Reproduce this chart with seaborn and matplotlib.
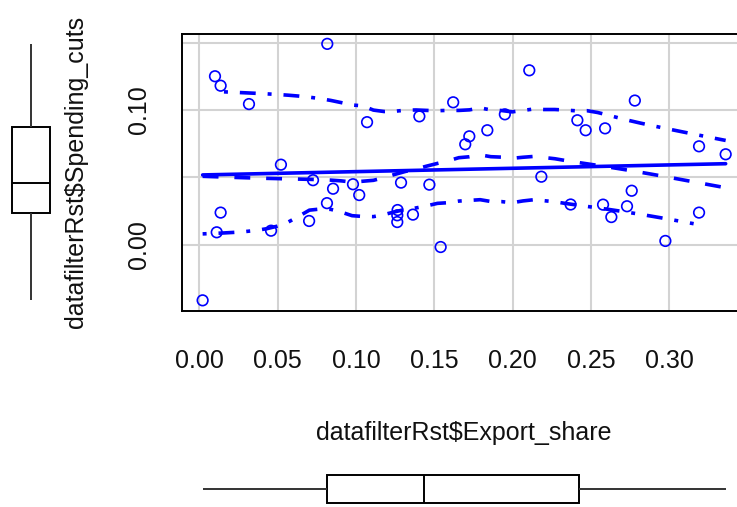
import numpy as np
import pandas as pd
import matplotlib
matplotlib.use("Agg")
import matplotlib.pyplot as plt
import seaborn as sns

# ---------------- data ----------------
export_share = [0.002, 0.0099, 0.0135, 0.0316, 0.0135, 0.011, 0.0816, 0.107,
                0.052, 0.0725, 0.0853, 0.098, 0.102, 0.0814, 0.070, 0.0457,
                0.2106, 0.162, 0.278, 0.1404, 0.195, 0.1838, 0.1723, 0.1697,
                0.2413, 0.2466, 0.259, 0.319, 0.336, 0.1287, 0.1468, 0.2183,
                0.276, 0.1265, 0.1263, 0.1263, 0.1363, 0.154, 0.237, 0.2577,
                0.263, 0.273, 0.319, 0.2975]
spending_cuts = [-0.041, 0.125, 0.118, 0.1044, 0.024, 0.0094, 0.149, 0.091,
                 0.0595, 0.048, 0.0417, 0.045, 0.037, 0.031, 0.0178, 0.0106,
                 0.1294, 0.1057, 0.107, 0.0953, 0.0968, 0.085, 0.0805, 0.0746,
                 0.0924, 0.085, 0.0864, 0.0731, 0.0672, 0.0462, 0.0447, 0.0506,
                 0.0402, 0.0259, 0.022, 0.017, 0.0225, -0.0015, 0.030, 0.0299,
                 0.0207, 0.0287, 0.024, 0.003]
x_tick_values = [0.00, 0.05, 0.10, 0.15, 0.20, 0.25, 0.30]
x_tick_labels = ["0.00", "0.05", "0.10", "0.15", "0.20", "0.25", "0.30"]
y_tick_values = [0.00, 0.05, 0.10, 0.15]
y_tick_labels = ["0.00", "", "0.10", ""]
x_title = "datafilterRst$Export_share"
y_title = "datafilterRst$Spending_cuts"

# ---------------- smoothing (car::scatterplot style) ----------------
def local_fit(x, y, rw, x0, span, degree):
    n = len(x)
    q = max(int(np.floor(n * span)), 1)
    d = np.abs(x - x0)
    h = np.sort(d)[q - 1]
    h = max(h, 1e-12) * 1.0000001
    u = np.clip(d / h, 0, 1)
    w = (1 - u ** 3) ** 3 * rw
    if degree == 0:
        return np.sum(w * y) / np.sum(w)
    X = np.column_stack([np.ones(n), x - x0])
    sw = np.sqrt(w)
    beta = np.linalg.lstsq(X * sw[:, None], y * sw, rcond=None)[0]
    return beta[0]


def loess(x, y, span=2 / 3, degree=1, iterations=4):
    rw = np.ones(len(x))
    fitted = None
    for it in range(iterations):
        fitted = np.array([local_fit(x, y, rw, xi, span, degree) for xi in x])
        if it < iterations - 1:
            r = y - fitted
            s = np.median(np.abs(r))
            if s <= 0:
                break
            u = np.clip(np.abs(r) / (6 * s), 0, 1)
            rw = (1 - u ** 2) ** 2
    def predict(xe):
        out = np.array([local_fit(x, y, rw, xi, span, degree) for xi in xe])
        out[(xe < x.min() - 1e-12) | (xe > x.max() + 1e-12)] = np.nan
        return out
    return fitted, predict


xa = np.asarray(export_share, float)
ya = np.asarray(spending_cuts, float)
x_eval = np.linspace(xa.min(), xa.max(), 50)

fit_vals, fit_pred = loess(xa, ya)
y_eval = fit_pred(x_eval)
res = ya - fit_vals
pos = res > 0
_, pos_pred = loess(xa[pos], res[pos] ** 2, degree=0, iterations=1)
_, neg_pred = loess(xa[~pos], res[~pos] ** 2, degree=0, iterations=1)
y_up = y_eval + np.sqrt(pos_pred(x_eval))
y_lo = y_eval - np.sqrt(neg_pred(x_eval))

slope, intercept = np.polyfit(xa, ya, 1)
x_reg = np.array([xa.min(), xa.max()])
y_reg = intercept + slope * x_reg

df = pd.DataFrame({"x": xa, "y": ya})
curves = pd.DataFrame({"x": x_eval, "fit": y_eval, "up": y_up, "lo": y_lo})

# ---------------- figure ----------------
sns.set_theme(style="white")
plt.rcParams["font.family"] = ["Liberation Sans", "DejaVu Sans"]

W, H = 737, 507
fig = plt.figure(figsize=(W / 100, H / 100), dpi=100)
fig.patch.set_facecolor("white")

xr = xa.max() - xa.min()
yr = ya.max() - ya.min()
xlim = (xa.min() - 0.04 * xr, xa.max() + 0.04 * xr)
ylim = (ya.min() - 0.04 * yr, ya.max() + 0.04 * yr)

ppu_x = 1566.0
ax_left_px, ax_top_px, ax_bot_px = 181.7, 33.6, 310.6
ax_w_px = (xlim[1] - xlim[0]) * ppu_x
ax = fig.add_axes([ax_left_px / W, 1 - ax_bot_px / H, ax_w_px / W,
                   (ax_bot_px - ax_top_px) / H])

blue = "#0000FF"
for v in x_tick_values:
    ax.axvline(v, color="#d3d3d3", lw=1.5, zorder=0)
for v in y_tick_values:
    ax.axhline(v, color="#d3d3d3", lw=1.5, zorder=0)

sns.scatterplot(data=df, x="x", y="y", ax=ax, marker="o", s=58,
                facecolor="none", edgecolor=blue, linewidth=1.2, zorder=3)
lw = 2.6
sns.lineplot(x=x_reg, y=y_reg, ax=ax, color=blue, lw=lw, estimator=None,
             sort=False, zorder=4)
sns.lineplot(data=curves, x="x", y="fit", ax=ax, color=blue, lw=lw,
             estimator=None, sort=False, linestyle=(0, (4.4, 4.4)), zorder=4)
sns.lineplot(data=curves, x="x", y="up", ax=ax, color=blue, lw=lw,
             estimator=None, sort=False,
             linestyle=(0, (1.1, 3.3, 4.4, 3.3)), zorder=4)
sns.lineplot(data=curves, x="x", y="lo", ax=ax, color=blue, lw=lw,
             estimator=None, sort=False,
             linestyle=(0, (1.1, 3.3, 4.4, 3.3)), zorder=4)

ax.set_xticks(x_tick_values)
ax.set_xticklabels(x_tick_labels)
ax.set_yticks(y_tick_values)
ax.set_yticklabels(y_tick_labels, rotation=90, va="center")
ax.tick_params(axis="both", which="major", length=11.5, width=1.4,
               color="black", direction="out", labelsize=18,
               labelcolor="#111111")
ax.tick_params(axis="x", pad=16.5)
ax.tick_params(axis="y", pad=10.7)
ax.set_xlabel("")
ax.set_ylabel("")
for sp in ax.spines.values():
    sp.set_visible(True)
    sp.set_color("black")
    sp.set_linewidth(1.4)
ax.set_xlim(xlim)
ax.set_ylim(ylim)

# marginal boxplots
axl = fig.add_axes([2 / W, 1 - ax_bot_px / H, 58 / W,
                    (ax_bot_px - ax_top_px) / H], sharey=ax)
sns.boxplot(y=spending_cuts, ax=axl, width=0.655, color="white",
            linecolor="black", linewidth=1.4, showcaps=False, fliersize=0,
            whiskerprops={"color": "#333333"})
axl.set_xlim(-0.5, 0.5)
axl.axis("off")

axb = fig.add_axes([ax_left_px / W, 1 - 509.2 / H, ax_w_px / W, 40 / H],
                   sharex=ax)
sns.boxplot(x=export_share, ax=axb, width=0.71, color="white",
            linecolor="black", linewidth=1.4, showcaps=False, fliersize=0,
            whiskerprops={"color": "#333333"})
axb.set_ylim(-0.5, 0.5)
axb.axis("off")
ax.set_xlim(xlim)
ax.set_ylim(ylim)

fig.text((ax_left_px + ax_w_px / 2) / W, 1 - 433 / H, x_title,
         ha="center", va="center", fontsize=18, color="#111111")
fig.text(76 / W, 1 - ((ax_top_px + ax_bot_px) / 2) / H, y_title,
         ha="center", va="center", rotation=90, fontsize=18, color="#111111")

fig.savefig("out.png", dpi=100)
